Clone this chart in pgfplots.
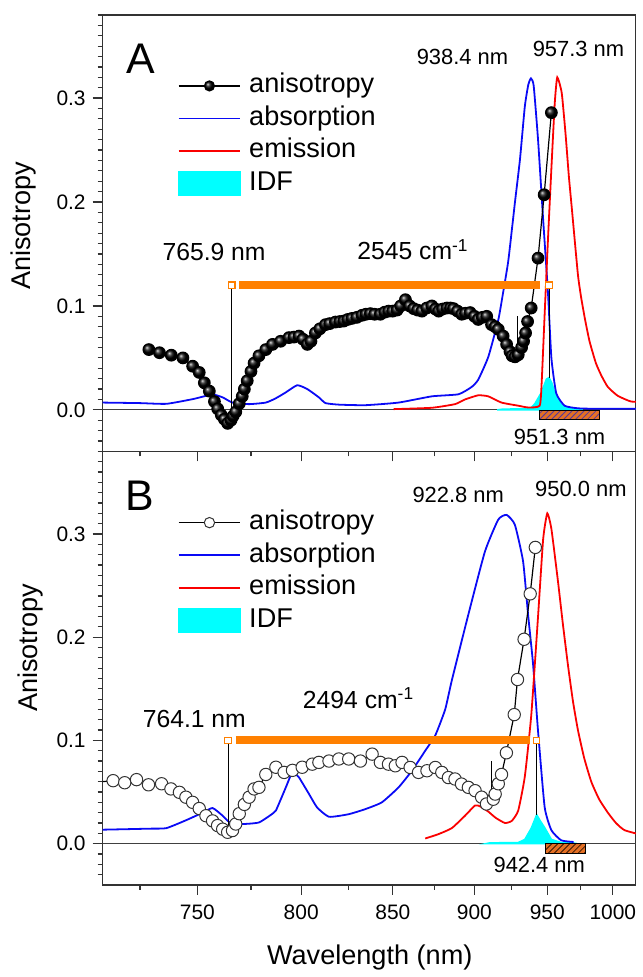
\documentclass[border=0pt]{standalone}
\usepackage{fontspec}
\setmainfont{Liberation Sans}
\usepackage{pgfplots}
\usepackage{pgfplotstable}
\pgfplotsset{compat=1.18}
\usetikzlibrary{patterns}

\definecolor{barorange}{RGB}{255,128,0}
\definecolor{idfcyan}{RGB}{0,255,255}
\definecolor{absblue}{RGB}{10,10,245}
\definecolor{emred}{RGB}{250,0,0}
\definecolor{hatchfill}{RGB}{228,112,36}
\definecolor{hatchA}{RGB}{85,55,160}
\definecolor{hatchB}{RGB}{60,25,5}
\newcommand\fs[1]{\fontsize{#1}{#1}\selectfont}

% x is plotted as wavenumber (10^4/nm), labelled in nm
\pgfplotsset{
  panel/.style={
    scale only axis, width=267.5pt,
    x dir=reverse,
    xmin=9.816, xmax=14.093, ymin=-0.04, ymax=0.38,
    x filter/.expression={10000/x},
    xtick={13.3333,12.5,11.7647,11.1111,10.5263,10},
    xticklabels={750,800,850,900,950,1000},
    minor xtick={13.7931,12.9032,12.1212,11.4286,10.8108,10.2564},
    ytick={0,0.1,0.2,0.3}, yticklabels={0.0,0.1,0.2,0.3},
    minor ytick={-0.03,-0.02,...,0.375},
    xtick pos=bottom, ytick pos=left, tick align=outside,
    major tick length=5pt, minor tick length=2.5pt,
    axis line style={black!80, line width=0.65pt},
    tick style={black!80, line width=0.6pt},
    tick label style={font=\fs{10.5}},
    xticklabel style={yshift=-1.5pt},
    label style={font=\fs{13.6}},
    /pgf/number format/assume math mode=true,
    clip marker paths=true,
    legend cell align=left,
    legend style={draw=none, fill=none, at={(0.140,0.868)}, anchor=north west,
      font=\fs{13.6}, inner sep=0pt, row sep=3.3pt,
      nodes={inner sep=0pt, text height=10pt, text depth=3pt},
      /tikz/every odd column/.append style={column sep=4pt}},
  },
  linelegend/.style={legend image code/.code={%
    \draw[mark repeat=2,mark phase=2,##1] plot coordinates {(0pt,0pt) (15.5pt,0pt) (31pt,0pt)};}},
  arealegend/.style={legend image code/.code={\fill[##1] (0pt,-6pt) rectangle (31pt,6pt);}},
}

\pgfplotstableread{
nm r
728.7 0.058
733.3 0.055
738.4 0.0526
743.5 0.050
747.9 0.042
750.9 0.036
753.2 0.026
755.5 0.018
757.8 0.008
759.3 0.001
761.0 -0.005
762.4 -0.009
763.9 -0.013
765.5 -0.010
766.5 -0.006
767.8 -0.002
769.4 0.006
770.8 0.013
771.8 0.020
773.2 0.028
775.0 0.037
776.5 0.045
778.9 0.052
782.2 0.058
785.5 0.063
789.6 0.066
793.8 0.0695
796.3 0.070
798.9 0.071
800.9 0.068
803.1 0.063
805.0 0.066
807.4 0.074
809.7 0.078
812.7 0.082
815.0 0.083
818.0 0.0845
820.3 0.085
822.5 0.0855
824.7 0.087
827.0 0.088
829.6 0.089
832.5 0.091
834.6 0.092
837.2 0.0926
839.6 0.092
842.8 0.092
845.3 0.094
847.6 0.095
849.9 0.095
852.4 0.096
854.6 0.100
857.3 0.106
859.8 0.100
862.2 0.0974
864.6 0.096
867.2 0.095
870.0 0.098
873.2 0.100
875.5 0.097
877.4 0.095
879.8 0.097
882.5 0.098
884.8 0.098
886.7 0.0974
889.2 0.095
891.9 0.092
894.3 0.093
897.3 0.0936
900.1 0.090
902.6 0.087
905.2 0.089
908.1 0.090
911.4 0.082
913.8 0.080
915.8 0.0775
919.2 0.071
921.5 0.063
923.8 0.056
925.3 0.052
927.2 0.051
929.5 0.053
931.8 0.060
933.2 0.066
934.6 0.074
936.0 0.085
938.5 0.098
943.3 0.146
947.8 0.207
953.0 0.286
}\anisoA

\pgfplotstableread{
nm a
705 0.007
709.6 0.007
724.8 0.0065
736.3 0.0058
747.9 0.0103
753.0 0.013
756.9 0.015
761.6 0.012
766.2 0.007
774.1 0.0055
782.2 0.007
787.0 0.011
792.1 0.0167
798.0 0.0237
803.1 0.020
809.2 0.012
812.7 0.0065
820.0 0.005
834.4 0.0045
853.3 0.007
873.2 0.013
889.8 0.015
898.2 0.022
902.6 0.029
909.2 0.051
915.8 0.0865
919.2 0.113
922.6 0.144
927.1 0.199
930.6 0.241
934.1 0.292
936.5 0.313
938.4 0.319
940.3 0.312
943.4 0.260
947.0 0.183
950.6 0.112
953.0 0.050
956.6 0.016
962.8 0.004
972.8 0.0015
988.1 0.001
1025 0.001
}\absA

\pgfplotstableread{
nm e
850.4 0.0007
873.2 0.002
887.7 0.0055
894.0 0.010
902.6 0.014
909.2 0.013
918.0 0.007
929.5 0.004
936.4 0.0023
944.6 0.004
945.9 0.026
948.2 0.092
950.6 0.165
953.0 0.232
955.5 0.295
957.3 0.320
960.6 0.305
963.5 0.265
966.0 0.225
968.5 0.190
972.8 0.130
975.3 0.108
978.2 0.087
981.7 0.066
986.5 0.045
990.8 0.033
996.0 0.022
1004.0 0.0135
1014.8 0.008
1025 0.008
}\emA

\pgfplotstableread{
nm f
915.0 0
919.2 0.0007
937.8 0.001
941.2 0.006
945.8 0.0167
949.4 0.0295
951.3 0.031
953.2 0.026
955.5 0.0167
960.6 0.004
970.4 0.0007
976.6 0
}\idfA

\pgfplotstableread{
nm r
709.4 0.060
713.8 0.061
718.6 0.059
723.5 0.062
728.6 0.057
734.2 0.058
738.3 0.053
742.0 0.0497
744.9 0.045
747.9 0.040
750.9 0.034
753.9 0.027
756.9 0.022
759.2 0.0175
761.6 0.014
763.9 0.011
766.2 0.0127
767.8 0.019
769.4 0.029
771.8 0.038
774.1 0.045
776.5 0.053
778.9 0.0545
782.2 0.067
787.2 0.074
791.3 0.069
795.5 0.071
800.5 0.074
805.7 0.077
809.2 0.0787
814.5 0.080
819.8 0.082
825.2 0.082
831.6 0.080
838.1 0.0867
842.8 0.0787
847.5 0.077
851.4 0.0754
855.3 0.0787
860.2 0.0738
865.1 0.069
870.2 0.0706
875.3 0.0738
879.3 0.069
883.5 0.064
887.6 0.0626
891.8 0.0577
896.1 0.0545
900.4 0.0513
904.7 0.045
908.0 0.0384
912.5 0.043
913.8 0.048
915.8 0.058
918.0 0.067
921.4 0.088
926.7 0.125
928.9 0.159
933.6 0.198
937.8 0.242
941.5 0.287
}\anisoB

\pgfplotstableread{
nm a
705 0.0135
709.6 0.0135
729.2 0.0145
736.3 0.015
744.9 0.0226
752.4 0.030
756.9 0.0345
761.6 0.027
764.7 0.021
770.9 0.019
778.9 0.0205
785.5 0.029
787.2 0.032
792.1 0.054
794.7 0.066
796.5 0.068
798.9 0.064
804.0 0.048
808.3 0.035
814.5 0.026
825.2 0.0285
834.4 0.0335
843.7 0.040
853.3 0.0545
861.2 0.0706
869.2 0.090
875.3 0.105
881.4 0.130
885.6 0.158
896.1 0.222
906.9 0.283
915.8 0.314
921.5 0.3185
927.1 0.309
932.9 0.2735
936.4 0.222
939.9 0.174
943.4 0.109
948.2 0.0354
953.0 0.013
960.3 0.0032
969.4 0.0016
}\absB

\pgfplotstableread{
nm e
869.2 0.005
877.0 0.009
885.6 0.015
894.0 0.027
900.4 0.037
904.0 0.036
909.2 0.031
914.0 0.025
920.3 0.020
925.0 0.022
929.5 0.032
934.1 0.065
938.7 0.125
943.4 0.220
947.0 0.295
950.0 0.320
953.0 0.305
957.9 0.254
961.5 0.212
965.3 0.172
969.0 0.138
972.8 0.110
977.5 0.083
983.0 0.060
989.0 0.043
996.0 0.030
1002.5 0.020
1009.5 0.013
1025 0.008
}\emB

\pgfplotstableread{
nm f
907.8 0
910.0 0.0007
929.5 0.001
934.1 0.004
938.7 0.015
942.4 0.028
945.0 0.022
948.2 0.0155
953.0 0.004
960.3 0.001
969.4 0.0005
972.0 0
}\idfB

\begin{document}
\begin{tikzpicture}
% ---------------- panel A ----------------
\begin{axis}[panel, name=A, height=219pt, xticklabels={},
  ylabel={Anisotropy},
  ylabel style={at={(axis description cs:-0.1477,0.517)}, anchor=center}]
\addlegendimage{linelegend, black, line width=0.6pt, mark=ball, mark size=2.5pt, mark options={ball color=black}}
\addlegendentry{anisotropy}
\addlegendimage{linelegend, absblue, line width=0.9pt}
\addlegendentry{absorption}
\addlegendimage{linelegend, emred, line width=0.9pt}
\addlegendentry{emission}
\addlegendimage{arealegend, idfcyan}
\addlegendentry{IDF}

\addplot[forget plot, black!75, line width=0.6pt] coordinates {(700,0) (1030,0)};
\addplot[forget plot, draw=idfcyan, fill=idfcyan, line width=0.8pt] table[x=nm, y=f] {\idfA} \closedcycle;
\addplot[forget plot, absblue, line width=0.9pt, smooth, tension=0.3] table[x=nm, y=a] {\absA};
\addplot[forget plot, emred, line width=0.9pt, smooth, tension=0.3] table[x=nm, y=e] {\emA};
\addplot[forget plot, draw=black, fill=hatchfill, line width=0.5pt,
  postaction={pattern=north east lines, pattern color=hatchA}]
  coordinates {(944.6,-0.001) (989.5,-0.001) (989.5,-0.0095) (944.6,-0.0095)} -- cycle;
\addplot[forget plot, black, line width=0.5pt] coordinates {(765.9,-0.006) (765.9,0.12)};
\addplot[forget plot, black, line width=0.5pt] coordinates {(951.3,0.031) (951.3,0.12)};
\addplot[forget plot, black, line width=0.5pt] coordinates {(928.9,0.061) (928.9,0.090)};
\addplot[forget plot, black, line width=0.6pt, mark=ball, mark size=2.9pt, mark options={ball color=black}]
  table[x=nm, y=r] {\anisoA};
\addplot[forget plot, barorange, line width=4pt] coordinates {(769.4,0.12) (944.6,0.12)};
\addplot[forget plot, only marks, mark=square*, mark size=1.6pt,
  mark options={draw=barorange, fill=white, line width=0.6pt}] coordinates {(765.9,0.12) (951.3,0.12)};

\node[font=\fs{21.5}, inner sep=0pt] at (axis description cs:0.071,0.8995) {A};
\node[font=\fs{11}, inner sep=0pt] at (axis description cs:0.675,0.904) {938.4 nm};
\node[font=\fs{11}, inner sep=0pt] at (axis description cs:0.8925,0.922) {957.3 nm};
\node[font=\fs{12.4}, inner sep=0pt] at (axis description cs:0.209,0.4566) {765.9 nm};
\node[font=\fs{12.4}, inner sep=0pt] at (axis description cs:0.582,0.462) {2545 cm\textsuperscript{-1}};
\node[font=\fs{11}, inner sep=0pt] at (axis description cs:0.857,0.034) {951.3 nm};
\end{axis}

% ---------------- panel B ----------------
\begin{axis}[panel, name=B, height=217.5pt, at={(A.south west)}, anchor=north west,
  legend style={at={(0.140,0.8665)}},
  ylabel={Anisotropy},
  ylabel style={at={(axis description cs:-0.1346,0.547)}, anchor=center},
  xlabel={Wavelength (nm)},
  xlabel style={at={(axis description cs:0.501,-0.168)}, anchor=center}]
\addlegendimage{linelegend, black, line width=0.6pt, mark=*, mark size=2.6pt, mark options={fill=white, draw=black!80, line width=0.5pt}}
\addlegendentry{anisotropy}
\addlegendimage{linelegend, absblue, line width=0.9pt}
\addlegendentry{absorption}
\addlegendimage{linelegend, emred, line width=0.9pt}
\addlegendentry{emission}
\addlegendimage{arealegend, idfcyan}
\addlegendentry{IDF}

\addplot[forget plot, black!75, line width=0.6pt] coordinates {(700,0) (1030,0)};
\addplot[forget plot, draw=idfcyan, fill=idfcyan, line width=0.8pt] table[x=nm, y=f] {\idfB} \closedcycle;
\addplot[forget plot, absblue, line width=0.9pt, smooth, tension=0.3] table[x=nm, y=a] {\absB};
\addplot[forget plot, emred, line width=0.9pt, smooth, tension=0.3] table[x=nm, y=e] {\emB};
\addplot[forget plot, draw=black, fill=hatchfill, line width=0.5pt,
  postaction={pattern=north east lines, pattern color=hatchB}]
  coordinates {(948.9,0) (978.7,0) (978.7,-0.0097) (948.9,-0.0097)} -- cycle;
\addplot[forget plot, black, line width=0.5pt] coordinates {(764.1,0.011) (764.1,0.1)};
\addplot[forget plot, black, line width=0.5pt] coordinates {(942.4,0.028) (942.4,0.1)};
\addplot[forget plot, black, line width=0.5pt] coordinates {(911.0,0.043) (911.0,0.080)};
\addplot[forget plot, black, line width=0.6pt, mark=*, mark size=3.1pt,
  mark options={fill=white, draw=black!80, line width=0.5pt}]
  table[x=nm, y=r] {\anisoB};
\addplot[forget plot, barorange, line width=4pt] coordinates {(767.8,0.1) (937.4,0.1)};
\addplot[forget plot, only marks, mark=square*, mark size=1.6pt,
  mark options={draw=barorange, fill=white, line width=0.6pt}] coordinates {(764.1,0.1) (942.4,0.1)};

\node[font=\fs{21.5}, inner sep=0pt] at (axis description cs:0.069,0.8966) {B};
\node[font=\fs{11}, inner sep=0pt] at (axis description cs:0.667,0.899) {922.8 nm};
\node[font=\fs{11}, inner sep=0pt] at (axis description cs:0.897,0.913) {950.0 nm};
\node[font=\fs{12.4}, inner sep=0pt] at (axis description cs:0.172,0.3816) {764.1 nm};
\node[font=\fs{12.4}, inner sep=0pt] at (axis description cs:0.480,0.431) {2494 cm\textsuperscript{-1}};
\node[font=\fs{11}, inner sep=0pt] at (axis description cs:0.819,0.046) {942.4 nm};
\end{axis}
\path (A.north west) ++(-51.5pt,7.5pt) rectangle ++(319.5pt,-488.5pt);
\end{tikzpicture}
\end{document}
